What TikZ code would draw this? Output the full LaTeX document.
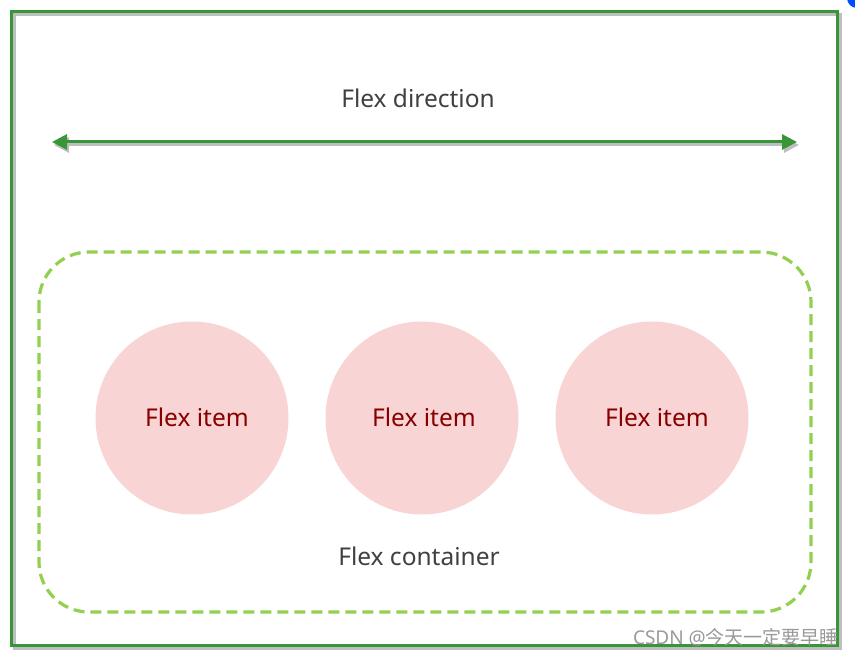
\documentclass[tikz,border=0pt]{standalone}
\usepackage{fontspec}
\setmainfont{Noto Sans}
\newfontfamily\cjkfont{Noto Sans CJK SC}
\usetikzlibrary{arrows.meta}
\definecolor{frameG}{RGB}{56,150,56}
\definecolor{dashG}{RGB}{146,208,80}
\definecolor{itemFill}{RGB}{249,212,212}
\definecolor{itemText}{RGB}{135,0,0}
\definecolor{labelGray}{RGB}{64,64,64}
\definecolor{shadowGray}{RGB}{190,190,190}
\tikzset{
  item/.style={circle,fill=itemFill,minimum size=193pt,inner sep=0pt},
  itemlbl/.style={text=itemText,font=\fontsize{24.5}{28}\selectfont,inner sep=0pt},
  lbl/.style={text=labelGray,font=\fontsize{24.5}{28}\selectfont,inner sep=0pt},
  framebox/.style={draw=frameG,line width=3pt},
  shadowline/.style={draw=shadowGray,line width=3pt},
  flexarrow/.style={draw=frameG,line width=3pt,{Triangle[length=15pt,width=15pt]}-{Triangle[length=15pt,width=15pt]}},
  shadowarrow/.style={draw=shadowGray,line width=3pt,{Triangle[length=15pt,width=15pt]}-{Triangle[length=15pt,width=15pt]}},
  container/.style={draw=dashG,line width=3.2pt,dash pattern=on 11pt off 6pt,rounded corners=50pt}
}
\begin{document}
\begin{tikzpicture}[x=1pt,y=-1pt]
\useasboundingbox[fill=white] (0,0) rectangle (855,658);
% blue corner blob
\begin{scope}
\clip (0,0) rectangle (855,658);
\fill[blue!70!cyan] (857,-2) circle (10);
\end{scope}
% outer frame with shadow
\draw[shadowline] (14,15) rectangle (840,648);
\draw[framebox] (11,12) rectangle (837,645);
% direction arrow
\coordinate (aL) at (52,142);
\coordinate (aR) at (797,142);
\coordinate (sL) at (54,145);
\coordinate (sR) at (799,145);
\draw[shadowarrow] (sL) -- (sR);
\draw[flexarrow] (aL) -- (aR);
\node[lbl] (dir) at (418,98) {Flex direction};
% container
\draw[container] (39,252) rectangle (811,612);
\node[item] (i1) at (192,418) {};
\node[item] (i2) at (422,418) {};
\node[item] (i3) at (652,418) {};
\node[itemlbl] (t1) at (197,417) {Flex item};
\node[itemlbl] (t2) at (424,417) {Flex item};
\node[itemlbl] (t3) at (657,417) {Flex item};
\node[lbl] (cont) at (419,556) {Flex container};
% watermark
\node[text=gray!80,font=\fontsize{19}{22}\selectfont,anchor=east,inner sep=0pt] (wm) at (839,637) {CSDN @{\cjkfont 今天一定要早睡}};
\end{tikzpicture}
\end{document}
